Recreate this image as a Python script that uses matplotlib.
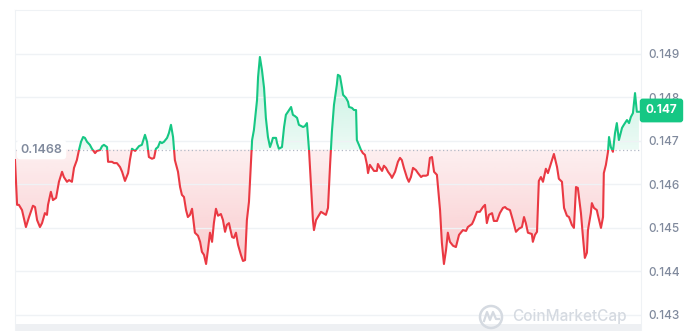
# %%
import numpy as np
import matplotlib
matplotlib.use('Agg')
import matplotlib.pyplot as plt
from matplotlib.colors import to_rgb
from matplotlib.path import Path
from matplotlib.patches import PathPatch, Rectangle, Circle
from matplotlib.transforms import IdentityTransform

plt.rcParams['font.family'] = ['Inter', 'DejaVu Sans']

# %% data (hours since start, price in USD)
hours = [
    0.00, 0.08, 0.15, 0.27, 0.42, 0.54, 0.69, 0.77, 0.85, 0.96, 1.04, 1.15, 1.23, 1.27, 1.38, 1.46,
    1.58, 1.69, 1.81, 1.88, 2.00, 2.08, 2.19, 2.27, 2.38, 2.46, 2.54, 2.62, 2.69, 2.77, 2.88, 2.96,
    3.08, 3.15, 3.27, 3.35, 3.42, 3.54, 3.58, 3.73, 3.81, 3.92, 4.04,
    4.12, 4.23, 4.35, 4.42, 4.50, 4.62, 4.69, 4.77, 4.88, 5.00, 5.08, 5.15, 5.27, 5.35, 5.42, 5.50,
    5.58, 5.65, 5.73, 5.85, 5.92, 6.00, 6.08, 6.15, 6.27, 6.35, 6.42, 6.50, 6.58, 6.65, 6.73, 6.81,
    6.92, 7.04, 7.12, 7.19, 7.27, 7.35, 7.42, 7.50, 7.58, 7.65, 7.73, 7.81, 7.92, 8.00,
    8.08, 8.15, 8.23, 8.35, 8.42, 8.50, 8.58, 8.69, 8.77, 8.85, 8.92, 9.00, 9.08, 9.12, 9.19, 9.31,
    9.35, 9.42, 9.50, 9.58, 9.65, 9.73, 9.81, 9.88, 9.92, 10.04, 10.08, 10.15, 10.27, 10.35, 10.42,
    10.50, 10.62, 10.69, 10.77, 10.85, 10.92, 11.08, 11.15, 11.23, 11.31, 11.38, 11.46, 11.50, 11.58,
    11.65, 11.77, 11.85, 11.96, 12.04,
    12.12, 12.19, 12.27, 12.38, 12.42, 12.50, 12.58, 12.62, 12.73, 12.81, 12.85, 12.96, 13.04, 13.12,
    13.15, 13.23, 13.31, 13.38, 13.46, 13.54, 13.58, 13.65, 13.73, 13.81, 13.92, 13.96, 14.04, 14.12,
    14.19, 14.27, 14.35, 14.46, 14.50, 14.62, 14.73, 14.81, 14.88, 14.96, 15.08, 15.15, 15.23, 15.31,
    15.42, 15.50, 15.62, 15.69, 15.81, 15.88, 15.96, 16.04, 16.12,
    16.23, 16.35, 16.42, 16.50, 16.58, 16.65, 16.73, 16.85, 16.96, 17.08, 17.23, 17.35, 17.42, 17.58,
    17.65, 17.77, 17.88, 18.00, 18.08, 18.15, 18.23, 18.35, 18.42, 18.54, 18.65, 18.77, 18.85, 18.92,
    19.04, 19.15, 19.27, 19.38, 19.50, 19.58, 19.65, 19.73, 19.88, 19.92, 20.00, 20.08,
    20.15, 20.23, 20.31, 20.42, 20.50, 20.62, 20.73, 20.85, 20.92, 21.04, 21.12, 21.23, 21.31, 21.42,
    21.50, 21.58, 21.65, 21.77, 21.85, 21.92, 22.00, 22.04, 22.15, 22.19, 22.27, 22.38, 22.42, 22.54,
    22.62, 22.65, 22.73, 22.81, 22.85, 22.92, 23.00, 23.08, 23.15, 23.23, 23.35, 23.42, 23.54, 23.62,
    23.69, 23.77, 23.85, 23.92, 24.00,
]
price = [
    0.14656, 0.14553, 0.14553, 0.14541, 0.14502, 0.14525, 0.14551, 0.14548, 0.14518, 0.14502, 0.14511,
    0.14534, 0.14530, 0.14553, 0.14583, 0.14564, 0.14569, 0.14606, 0.14629, 0.14617, 0.14606, 0.14610,
    0.14606, 0.14638, 0.14656, 0.14679, 0.14698, 0.14709, 0.14707, 0.14698, 0.14691, 0.14682, 0.14672,
    0.14677, 0.14679, 0.14688, 0.14691, 0.14686, 0.14652, 0.14652, 0.14649, 0.14649, 0.14640,
    0.14629, 0.14608, 0.14626, 0.14656, 0.14682, 0.14677, 0.14682, 0.14688, 0.14691, 0.14714, 0.14698,
    0.14663, 0.14659, 0.14661, 0.14682, 0.14686, 0.14698, 0.14695, 0.14698, 0.14707, 0.14718, 0.14737,
    0.14709, 0.14656, 0.14629, 0.14594, 0.14576, 0.14571, 0.14541, 0.14525, 0.14530, 0.14544, 0.14489,
    0.14482, 0.14468, 0.14445, 0.14438, 0.14417, 0.14449, 0.14489, 0.14468, 0.14511, 0.14544, 0.14528,
    0.14532, 0.14518,
    0.14491, 0.14507, 0.14511, 0.14479, 0.14477, 0.14489, 0.14461, 0.14438, 0.14424, 0.14426, 0.14518,
    0.14560, 0.14656, 0.14702, 0.14725, 0.14794, 0.14847, 0.14893, 0.14863, 0.14822, 0.14753, 0.14709,
    0.14686, 0.14698, 0.14707, 0.14707, 0.14695, 0.14682, 0.14686, 0.14732, 0.14760, 0.14767, 0.14778,
    0.14760, 0.14757, 0.14753, 0.14737, 0.14732, 0.14734, 0.14741, 0.14679, 0.14603, 0.14518, 0.14495,
    0.14518, 0.14525, 0.14537, 0.14534, 0.14530, 0.14546,
    0.14645, 0.14721, 0.14783, 0.14829, 0.14852, 0.14849, 0.14822, 0.14806, 0.14799, 0.14790, 0.14778,
    0.14776, 0.14771, 0.14771, 0.14702, 0.14691, 0.14679, 0.14672, 0.14668, 0.14645, 0.14626, 0.14645,
    0.14638, 0.14631, 0.14631, 0.14647, 0.14638, 0.14631, 0.14643, 0.14638, 0.14629, 0.14620, 0.14615,
    0.14629, 0.14652, 0.14661, 0.14656, 0.14638, 0.14615, 0.14606, 0.14617, 0.14638, 0.14633, 0.14626,
    0.14617, 0.14620, 0.14620, 0.14622, 0.14661, 0.14663, 0.14629,
    0.14622, 0.14541, 0.14466, 0.14417, 0.14449, 0.14489, 0.14468, 0.14459, 0.14456, 0.14484, 0.14495,
    0.14493, 0.14502, 0.14509, 0.14518, 0.14537, 0.14537, 0.14548, 0.14553, 0.14511, 0.14530, 0.14534,
    0.14516, 0.14516, 0.14534, 0.14546, 0.14548, 0.14544, 0.14541, 0.14518, 0.14491, 0.14498, 0.14502,
    0.14525, 0.14511, 0.14489, 0.14486, 0.14468, 0.14484, 0.14491,
    0.14608, 0.14617, 0.14606, 0.14636, 0.14626, 0.14649, 0.14670, 0.14640, 0.14613, 0.14606, 0.14546,
    0.14528, 0.14525, 0.14507, 0.14500, 0.14594, 0.14592, 0.14534, 0.14477, 0.14431, 0.14443, 0.14495,
    0.14534, 0.14557, 0.14546, 0.14541, 0.14530, 0.14500, 0.14525, 0.14626, 0.14645, 0.14675, 0.14709,
    0.14686, 0.14675, 0.14718, 0.14741, 0.14702, 0.14730, 0.14737, 0.14748, 0.14741, 0.14755, 0.14764,
    0.14810, 0.14767, 0.14767,
]
open_price = 0.1468
open_label = '0.1468'
last_price = 0.1477
last_label = '0.147'
y_ticks = [0.143, 0.144, 0.145, 0.146, 0.147, 0.148, 0.149]
y_labels = ['0.143', '0.144', '0.145', '0.146', '0.147', '0.148', '0.149']

GREEN = '#16c784'
RED = '#ea3943'
GREY = '#808a9d'
LIGHT = '#eff2f5'

t = np.array(hours)
p = np.array(price)
x_max = 24.08
y_min, y_max = 0.14263, 0.15001


# %%
def gradient_fill(ax, where, color, y0, y1, a0, a1):
    # area between price and open line, shaded with a vertical alpha ramp
    coll = ax.fill_between(t, p, open_price, where=where, interpolate=True,
                           facecolor='none', edgecolor='none')
    path = Path.make_compound_path(*coll.get_paths())
    clip = PathPatch(path, transform=ax.transData, facecolor='none', edgecolor='none')
    ax.add_patch(clip)
    rgba = np.zeros((256, 1, 4))
    rgba[..., :3] = to_rgb(color)
    rgba[..., 3] = np.linspace(a0, a1, 256)[:, None]
    im = ax.imshow(rgba, extent=[0, x_max, y0, y1], origin='lower',
                   aspect='auto', zorder=1, interpolation='bilinear')
    im.set_clip_path(clip)


# %%
fig = plt.figure(figsize=(6.96, 3.31), dpi=100)
ax = fig.add_axes([15 / 696, 0, 626 / 696, 321 / 331])

gradient_fill(ax, p >= open_price, GREEN, open_price, 0.1490, 0.08, 0.28)
gradient_fill(ax, p <= open_price, RED, 0.1442, open_price, 0.26, 0.08)

# price line, green above the open price and red below it
for color, lo, hi in [(GREEN, open_price, y_max), (RED, y_min, open_price)]:
    line, = ax.plot(t, p, color=color, lw=1.5, zorder=3, solid_joinstyle='round')
    line.set_clip_path(Rectangle((0, lo), x_max, hi - lo, transform=ax.transData))

ax.axhline(open_price, color='#b3b9c6', lw=0.9, ls=(0, (1, 2)), zorder=2)
ax.text(0.009, open_price, open_label, transform=ax.get_yaxis_transform(),
        ha='left', va='center', fontsize=9, color=GREY, fontweight='semibold', zorder=4,
        bbox=dict(boxstyle='round,pad=0.3', fc='white', ec='none'))

ax.set_xlim(0, x_max)
ax.set_ylim(y_min, y_max)
ax.set_xticks([])
ax.set_yticks(y_ticks)
ax.set_yticklabels(y_labels, fontweight='medium')
ax.yaxis.tick_right()
ax.tick_params(axis='y', length=0, pad=5, labelsize=8.5, labelcolor=GREY)
ax.grid(axis='y', color=LIGHT, lw=1, zorder=0)
for side in ['left', 'top', 'right']:
    ax.spines[side].set_color(LIGHT)
ax.spines['bottom'].set_visible(False)

# navigator band at the bottom
ax.add_patch(Rectangle((0, 0), 1, 7 / 321, transform=ax.transAxes,
                       facecolor='#eef0f3', edgecolor='none', zorder=0))

# last price tag
ax.text(1.0327, last_price, last_label, transform=ax.get_yaxis_transform(),
        ha='center', va='center', fontsize=8.5, color='white', fontweight='bold',
        clip_on=False, zorder=5,
        bbox=dict(boxstyle='round,pad=0.5,rounding_size=0.25', fc=GREEN, ec='none'))

# watermark
fig.add_artist(Circle((491, 331 - 317), 11, transform=IdentityTransform(),
                      facecolor='none', edgecolor='#d5dae1', lw=1.8))
fig.add_artist(plt.Line2D([484, 487, 490, 493, 496, 499], [10, 19, 11, 19, 12, 12],
                          transform=IdentityTransform(), color='#d5dae1', lw=1.6))
fig.text(512 / 696, 1 - 317 / 331, 'CoinMarketCap', ha='left', va='center',
         fontsize=11, color='#d5dae1', fontweight='medium')

fig.savefig('out.png', dpi=100, facecolor='white')
